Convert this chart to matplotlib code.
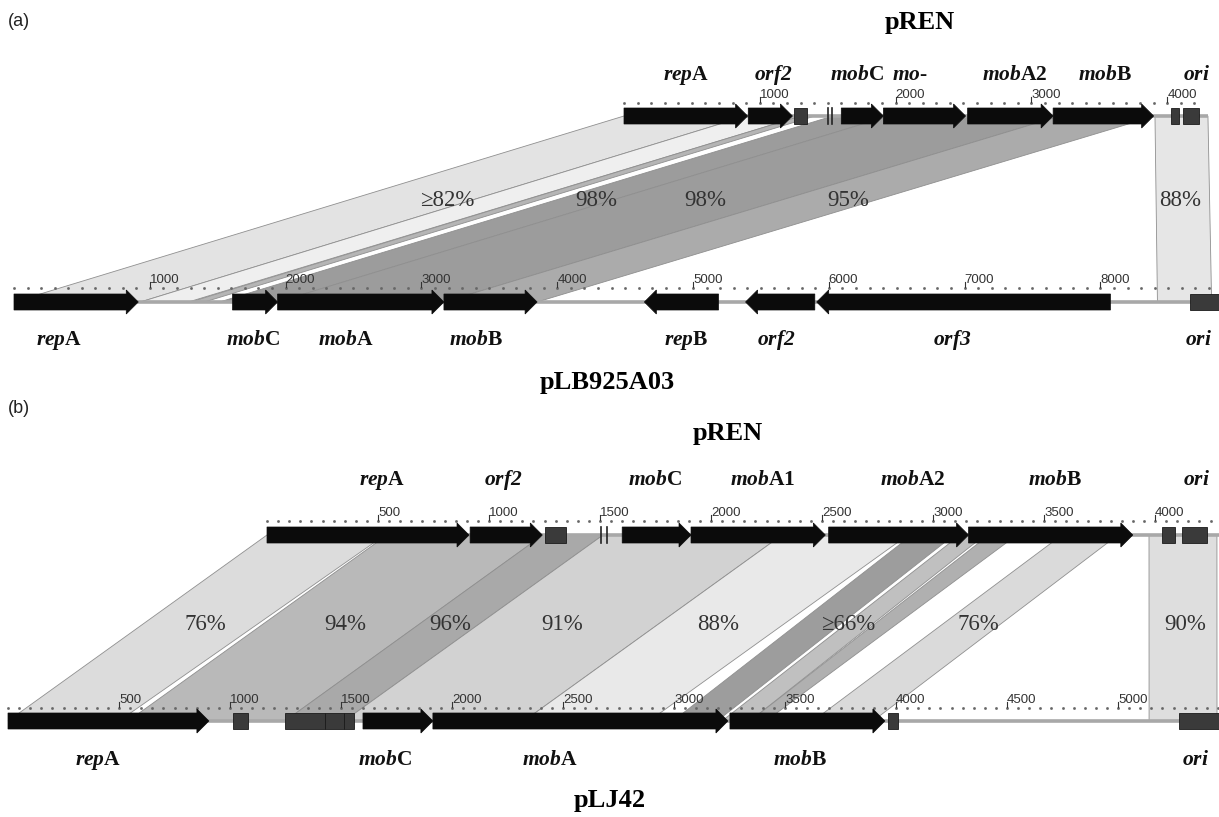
import matplotlib
matplotlib.use('Agg')
import matplotlib.pyplot as plt
from matplotlib.patches import Polygon
import numpy as np

plt.rcParams['mathtext.fontset'] = 'custom'
plt.rcParams['mathtext.rm'] = 'Liberation Serif'
plt.rcParams['mathtext.it'] = 'Liberation Serif:italic'
plt.rcParams['mathtext.bf'] = 'Liberation Serif:bold'
plt.rcParams['mathtext.bfit'] = 'Liberation Serif:italic:bold'

# ---------------- data (positions in bp) ----------------
# pREN (same plasmid in both panels)
pren_len = 4300
pren_genes = [(0, 910, 1), (915, 1240, 1), (1600, 1910, 1), (1910, 2515, 1),
              (2530, 3160, 1), (3160, 3900, 1)]
pren_boxes = [(1250, 1345), (4030, 4090), (4120, 4235)]
pren_bars = [1505, 1530]

# pLB925A03
plb_len = 8880
plb_genes = [(0, 915, 1), (1609, 1941, 1), (1941, 3166, 1), (3166, 3852, 1),
             (4642, 5188, -1), (5387, 5897, -1), (5911, 8074, -1)]
plb_boxes = [(8657, 8878)]

# pLJ42
plj_len = 5460
plj_genes = [(0, 905, 1), (1599, 1914, 1), (1914, 3243, 1), (3252, 3950, 1)]
plj_boxes = [(1014, 1081), (1248, 1428), (1428, 1513), (1513, 1559),
             (3964, 4009), (5275, 5459)]

# gene names (italic part, upright part) and where they sit (bp)
pren_a_names = [('rep', 'A'), ('orf2', ''), ('mob', 'C'), ('mo', '-'),
                ('mob', 'A2'), ('mob', 'B'), ('ori', '')]
pren_a_name_bp = [457, 1097, 1716, 2106, 2879, 3542, 4219]
plb_names = [('rep', 'A'), ('mob', 'C'), ('mob', 'A'), ('mob', 'B'),
             ('rep', 'B'), ('orf2', ''), ('orf3', ''), ('ori', '')]
plb_name_bp = [331, 1760, 2445, 3402, 4948, 5611, 6907, 8726]
pren_b_names = [('rep', 'A'), ('orf2', ''), ('mob', 'C'), ('mob', 'A1'),
                ('mob', 'A2'), ('mob', 'B'), ('ori', '')]
pren_b_name_bp = [518, 1063, 1748, 2234, 2910, 3550, 4189]
plj_names = [('rep', 'A'), ('mob', 'C'), ('mob', 'A'), ('mob', 'B'), ('ori', '')]
plj_name_bp = [405, 1698, 2441, 3568, 5347]

# ruler ticks
pren_a_ticks = [1000, 2000, 3000, 4000]
plb_ticks = [1000, 2000, 3000, 4000, 5000, 6000, 7000, 8000]
pren_b_ticks = [500, 1000, 1500, 2000, 2500, 3000, 3500, 4000]
plj_ticks = [500, 1000, 1500, 2000, 2500, 3000, 3500, 4000, 4500, 5000]

# homologous blocks: (top start, top end, bottom start, bottom end)
blocks_a = [(0, 898, 0, 930), (898, 1303, 930, 1284), (1303, 1406, 1299, 1402),
            (1539, 1952, 1513, 1941), (1952, 3211, 1941, 3166),
            (3211, 3910, 3166, 3852), (3910, 4300, 8420, 8819)]
shade_a = ['#e3e3e3', '#efefef', '#b5b5b5', '#9c9c9c', '#9c9c9c', '#ababab', '#e6e6e6']
ident_a = ['\u226582%', '98%', '98%', '95%', '88%']
ident_a_bp = [3189, 4286, 5088, 6141, 8586]

blocks_b = [(0, 531, 0, 500), (541, 1243, 541, 1248), (1243, 1514, 1248, 1514),
            (1514, 2320, 1514, 2324), (2320, 2887, 2324, 2887),
            (2905, 3095, 2995, 3194), (3122, 3234, 3216, 3342),
            (3252, 3378, 3342, 3414), (3581, 3833, 3626, 3896),
            (3973, 4279, 5140, 5446)]
shade_b = ['#dcdcdc', '#b9b9b9', '#a9a9a9', '#d2d2d2', '#e9e9e9',
           '#9d9d9d', '#c0c0c0', '#b0b0b0', '#dadada', '#dedede']
ident_b = ['76%', '94%', '96%', '91%', '88%', '\u226566%', '76%', '90%']
ident_b_bp = [887, 1518, 1991, 2495, 3198, 3784, 4369, 5302]

# ---------------- drawing helpers ----------------
W, H = 1219, 817
SERIF = 'Liberation Serif'


def draw_track(ax, off, genes, boxes, bars, length, yc, scale):
    ax.plot([off, off + length], [yc, yc], color='#a8a8a8', lw=2.6,
            solid_capstyle='butt', zorder=3)
    hl = 12 / scale
    bh, hh = 8, 12
    for s, e, strand in genes:
        s, e = off + s, off + e
        if strand > 0:
            k = max(s, e - hl)
            pts = [(s, yc - bh), (k, yc - bh), (k, yc - hh), (e, yc), (k, yc + hh),
                   (k, yc + bh), (s, yc + bh)]
        else:
            k = min(e, s + hl)
            pts = [(e, yc - bh), (k, yc - bh), (k, yc - hh), (s, yc), (k, yc + hh),
                   (k, yc + bh), (e, yc + bh)]
        ax.add_patch(Polygon(pts, closed=True, fc='#0b0b0b', ec='#0b0b0b', lw=0.5, zorder=5))
    for s, e in boxes:
        ax.add_patch(Polygon([(off + s, yc - bh), (off + e, yc - bh), (off + e, yc + bh),
                              (off + s, yc + bh)], closed=True, fc='#3a3a3a',
                             ec='#1a1a1a', lw=0.6, zorder=5))
    for b in bars:
        ax.plot([off + b, off + b], [yc - bh, yc + bh], color='#222222', lw=1.2, zorder=5)


def draw_ruler(ax, off, length, y, dot_step, ticks):
    xs = np.arange(0, length, dot_step)
    ax.plot(off + xs, np.full(len(xs), y), ls='none', marker='s', ms=0.9,
            color='#666666', zorder=4)
    for t in ticks:
        ax.plot([off + t, off + t], [y - 1, y - 6], color='#333333', lw=0.8, zorder=4)
        ax.text(off + t, y - 2, str(t), ha='left', va='bottom',
                fontsize=9.5, color='#333333', family='Liberation Sans', zorder=6)


def draw_names(ax, off, names, pos, y):
    for (it, up), p in zip(names, pos):
        ax.text(off + p, y, r'$\mathbfit{%s}$%s' % (it, up), ha='center', va='center',
                fontsize=15.5, family=SERIF, weight='bold', color='#111111')


def draw_blocks(ax, off_top, y_top, y_bot, blocks, shades):
    for (ts, te, bs, be), c in zip(blocks, shades):
        ax.add_patch(Polygon([(off_top + ts, y_top), (off_top + te, y_top), (be, y_bot),
                              (bs, y_bot)], closed=True, fc=c, ec='#8f8f8f', lw=0.6,
                             zorder=1))


def setup(ax, scale, x0):
    ax.set_xlim(-x0 / scale, (W - x0) / scale)
    ax.set_ylim(H, 0)
    ax.axis('off')
    ax.patch.set_alpha(0)


fig = plt.figure(figsize=(W / 100, H / 100), dpi=100)

# ---------------- panel (a) ----------------
sa = 0.1358
axa = fig.add_axes([0, 0, 1, 1])
setup(axa, sa, 14)
off_a = (624 - 14) / sa
draw_blocks(axa, off_a, 116, 302, blocks_a, shade_a)
draw_track(axa, off_a, pren_genes, pren_boxes, pren_bars, pren_len, 116, sa)
draw_track(axa, 0, plb_genes, plb_boxes, [], plb_len, 302, sa)
draw_ruler(axa, off_a, pren_len, 103, 100, pren_a_ticks)
draw_ruler(axa, 0, plb_len, 288, 100, plb_ticks)
draw_names(axa, off_a, pren_a_names, pren_a_name_bp, 75)
draw_names(axa, 0, plb_names, plb_name_bp, 340)
for s, p in zip(ident_a, ident_a_bp):
    axa.text(p, 200, s, ha='center', va='center', fontsize=16.5, family=SERIF,
             color='#333333', zorder=6)

# ---------------- panel (b) ----------------
sb = 0.222
axb = fig.add_axes([0, 0, 1, 1])
setup(axb, sb, 8)
off_b = (267 - 8) / sb
draw_blocks(axb, off_b, 535, 721, blocks_b, shade_b)
draw_track(axb, off_b, pren_genes, pren_boxes, pren_bars, pren_len, 535, sb)
draw_track(axb, 0, plj_genes, plj_boxes, [], plj_len, 721, sb)
draw_ruler(axb, off_b, pren_len, 521, 50, pren_b_ticks)
draw_ruler(axb, 0, plj_len, 708, 50, plj_ticks)
draw_names(axb, off_b, pren_b_names, pren_b_name_bp, 480)
draw_names(axb, 0, plj_names, plj_name_bp, 760)
for s, p in zip(ident_b, ident_b_bp):
    axb.text(p, 625, s, ha='center', va='center', fontsize=16.5, family=SERIF,
             color='#333333', zorder=6)


# titles
def ftext(x, y, s, **kw):
    fig.text(x / W, 1 - y / H, s, **kw)


ftext(8, 22, '(a)', fontsize=13, family='Liberation Sans', va='center', color='#222222')
ftext(8, 408, '(b)', fontsize=13, family='Liberation Sans', va='center', color='#222222')
ftext(920, 22, 'pREN', fontsize=19, family=SERIF, weight='bold', ha='center', va='center')
ftext(607, 382, 'pLB925A03', fontsize=19, family=SERIF, weight='bold', ha='center', va='center')
ftext(728, 433, 'pREN', fontsize=19, family=SERIF, weight='bold', ha='center', va='center')
ftext(610, 800, 'pLJ42', fontsize=19, family=SERIF, weight='bold', ha='center', va='center')

fig.savefig('out.png', dpi=100)
